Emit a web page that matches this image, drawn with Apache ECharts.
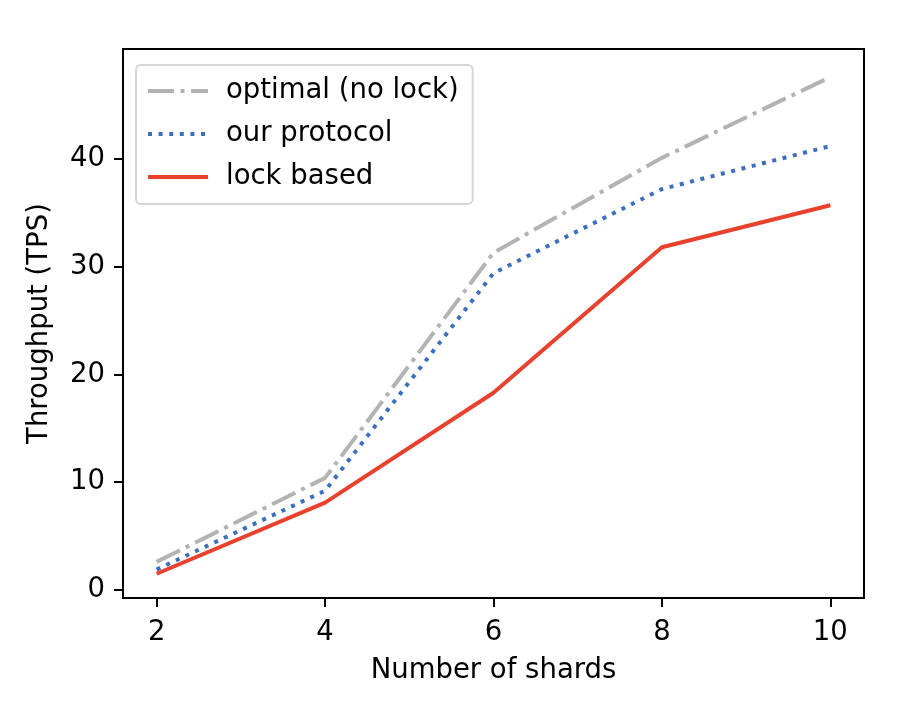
<!DOCTYPE html>
<html>
<head>
<meta charset="utf-8">
<script src="https://cdn.jsdelivr.net/npm/echarts@6/dist/echarts.min.js"></script>
<style>
    html, body { margin: 0; padding: 0; background: #fff; }
    #main { width: 908px; height: 708px; }
</style>
</head>
<body>
<div id="main"></div>
<script type="text/javascript">
    // data
    var shards = [2, 4, 6, 8, 10];
    var optimal = [2.6, 10.4, 31.3, 40.1, 47.6];
    var ourProtocol = [1.9, 9.2, 29.4, 37.2, 41.2];
    var lockBased = [1.5, 8.1, 18.3, 31.8, 35.7];
    var xTicks = [2, 4, 6, 8, 10];
    var yTicks = [0, 10, 20, 30, 40];

    var seriesNames = ['optimal (no lock)', 'our protocol', 'lock based'];

    function pairs(ys) {
        return shards.map(function (x, i) { return [x, ys[i]]; });
    }

    var font = 'DejaVu Sans';
    var fs = 27.5;
    var myChart = echarts.init(document.getElementById('main'), null, { renderer: 'canvas' });

    var option = {
        animation: false,
        textStyle: { fontFamily: font },
        grid: {
            left: 123, right: 44, top: 49, bottom: 110,
            show: true, borderColor: '#000', borderWidth: 2, backgroundColor: '#fff'
        },
        legend: {
            orient: 'vertical',
            left: 136, top: 65,
            padding: [12, 14, 13, 10],
            itemWidth: 60, itemHeight: 14, itemGap: 15,
            borderColor: '#d6d6d6', borderWidth: 2, borderRadius: 5,
            backgroundColor: 'rgba(255,255,255,0.8)',
            itemStyle: { opacity: 0 },
            lineStyle: { width: 4, cap: 'butt' },
            textStyle: { fontFamily: font, fontSize: fs, lineHeight: 27, color: '#000', padding: [0, 0, 0, 13] },
            data: seriesNames
        },
        xAxis: {
            type: 'value',
            min: 1.6, max: 10.4,
            name: 'Number of shards',
            nameLocation: 'middle',
            nameGap: 59,
            nameTextStyle: { fontFamily: font, fontSize: fs, color: '#000' },
            axisLine: { show: true, onZero: false, lineStyle: { color: '#000', width: 2 } },
            axisTick: { show: true, length: 9, lineStyle: { color: '#000', width: 2 }, customValues: xTicks },
            axisLabel: { fontFamily: font, fontSize: fs, color: '#000', margin: 21, customValues: xTicks },
            splitLine: { show: false }
        },
        yAxis: {
            type: 'value',
            min: -0.75, max: 50.2,
            name: 'Throughput (TPS)',
            nameLocation: 'middle',
            nameGap: 69,
            nameTextStyle: { fontFamily: font, fontSize: fs, color: '#000' },
            axisLine: { show: true, onZero: false, lineStyle: { color: '#000', width: 2 } },
            axisTick: { show: true, length: 9, lineStyle: { color: '#000', width: 2 }, customValues: yTicks },
            axisLabel: { fontFamily: font, fontSize: fs, color: '#000', margin: 18, padding: [4, 0, 0, 0], customValues: yTicks },
            splitLine: { show: false }
        },
        series: [
            {
                name: seriesNames[0],
                type: 'line',
                symbol: 'none',
                data: pairs(optimal),
                lineStyle: { color: '#b3b3b3', width: 4, type: [26, 6.5, 4, 6.5], cap: 'butt' },
                itemStyle: { color: '#b3b3b3' }
            },
            {
                name: seriesNames[1],
                type: 'line',
                symbol: 'none',
                data: pairs(ourProtocol),
                lineStyle: { color: '#3c6ebe', width: 4, type: [4, 6.6], cap: 'butt' },
                itemStyle: { color: '#3c6ebe' }
            },
            {
                name: seriesNames[2],
                type: 'line',
                symbol: 'none',
                data: pairs(lockBased),
                lineStyle: { color: '#e8422f', width: 4, type: 'solid' },
                itemStyle: { color: '#e8422f' }
            }
        ]
    };

    myChart.setOption(option);
</script>
</body>
</html>
